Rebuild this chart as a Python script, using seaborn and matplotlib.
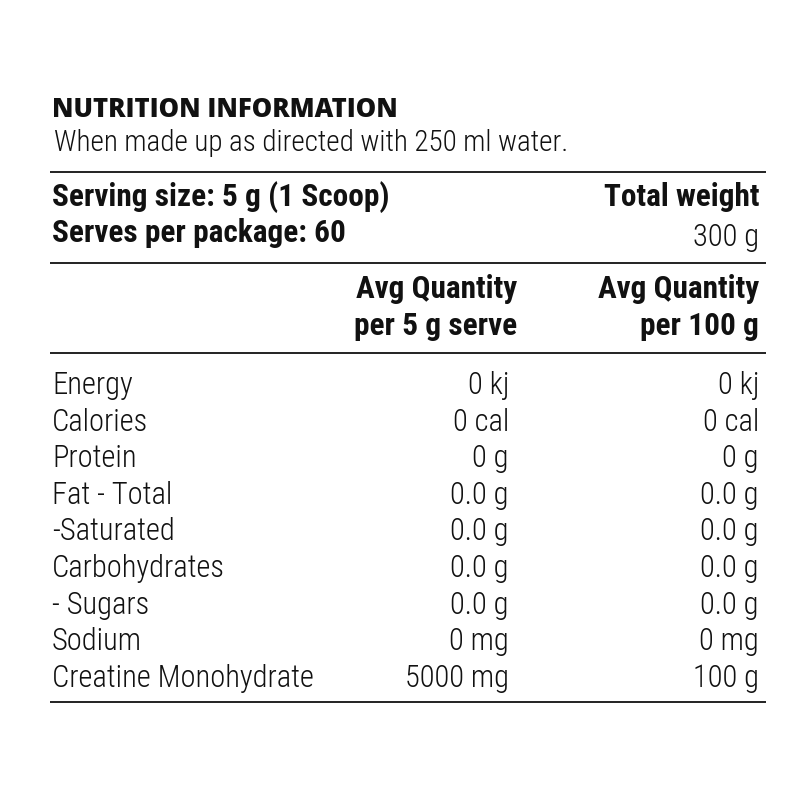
import matplotlib
matplotlib.use("Agg")
import matplotlib.pyplot as plt
import seaborn as sns

# Label data
title = "NUTRITION INFORMATION"
subtitle = "When made up as directed with 250 ml water."
serving_size = "Serving size: 5 g (1 Scoop)"
serves_per_pack = "Serves per package: 60"
total_weight_label = "Total weight"
total_weight = "300 g"
col_headers = [["Avg Quantity", "per 5 g serve"], ["Avg Quantity", "per 100 g"]]

nutrients = ["Energy", "Calories", "Protein", "Fat - Total", "-Saturated",
             "Carbohydrates", "- Sugars", "Sodium", "Creatine Monohydrate"]
per_serve = ["0 kj", "0 cal", "0 g", "0.0 g", "0.0 g", "0.0 g", "0.0 g", "0 mg", "5000 mg"]
per_100g = ["0 kj", "0 cal", "0 g", "0.0 g", "0.0 g", "0.0 g", "0.0 g", "0 mg", "100 g"]

sns.set_theme(style="white")
fams = ["Roboto Condensed", "Liberation Sans Narrow", "DejaVu Sans"]
plt.rcParams["font.family"] = fams

fig = plt.figure(figsize=(8, 8), dpi=100)
ax = fig.add_axes([0, 0, 1, 1])
ax.set_xlim(0, 800)
ax.set_ylim(800, 0)
ax.axis("off")

ink = "#111111"
left, col1, col2 = 52, 509, 759
light = dict(fontsize=22, fontweight="light", color=ink, va="baseline")
bold = dict(fontsize=22.5, fontweight="bold", color=ink, va="baseline")

ax.text(left, 117, title, fontsize=18.5, fontweight="heavy", color=ink, va="baseline",
        family=["Open Sans", "DejaVu Sans"])
ax.text(left + 2, 151, subtitle, fontsize=21, fontweight="light", color=ink, va="baseline")

ax.text(left, 206, serving_size, ha="left", **bold)
ax.text(left, 242, serves_per_pack, ha="left", **bold)
ax.text(col2, 206, total_weight_label, ha="right", **bold)
ax.text(col2, 246, total_weight, ha="right", **light)

for x, hdr in zip([col1 + 8, col2], col_headers):
    ax.text(x, 298, hdr[0], ha="right", **bold)
    ax.text(x, 335, hdr[1], ha="right", **bold)

row_y = [394 + 36.6 * i for i in range(len(nutrients))]
for y, name, a, b in zip(row_y, nutrients, per_serve, per_100g):
    ax.text(left, y, name, ha="left", **light)
    ax.text(col1, y, a, ha="right", **light)
    ax.text(col2, y, b, ha="right", **light)

# rule lines
ax.hlines([172, 263, 353, 702], 50, 766, color=ink, linewidth=1.3)

fig.savefig("out.png", dpi=100, facecolor="white")
